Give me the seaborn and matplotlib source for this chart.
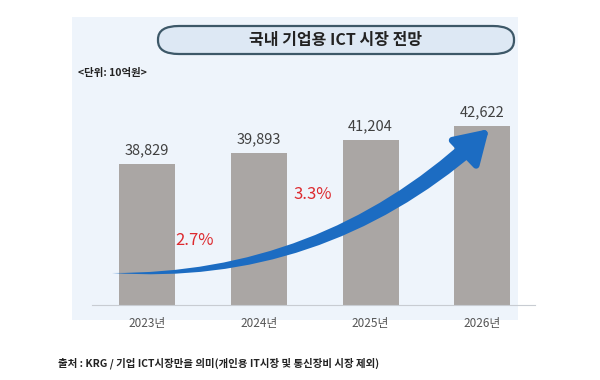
import matplotlib
matplotlib.use("Agg")
import matplotlib.pyplot as plt
import seaborn as sns
import pandas as pd
from matplotlib.patches import FancyBboxPatch, Rectangle

# --- data ---
years = ['2023년', '2024년', '2025년', '2026년']
values = [38829, 39893, 41204, 42622]
growth_labels = ['2.7%', '3.3%']

df = pd.DataFrame({'year': years, 'value': values})

sns.set_theme(style='white')
plt.rcParams['font.family'] = ['Noto Sans CJK KR', 'DejaVu Sans']

fig = plt.figure(figsize=(6, 3.8), dpi=100)
fig.patch.set_facecolor('white')

# light blue panel behind the chart
fig.patches.append(Rectangle((72 / 600, 1 - 320 / 380), 446 / 600, 303 / 380,
                             transform=fig.transFigure, facecolor='#eef4fb',
                             edgecolor='none', zorder=-2))

# rounded title box
fig.patches.append(FancyBboxPatch((158 / 600, 1 - 54 / 380), 356 / 600, 28 / 380,
                                  boxstyle='round,pad=0,rounding_size=0.035',
                                  transform=fig.transFigure, facecolor='#dde8f4',
                                  edgecolor='#3d5868', linewidth=1.6, zorder=-1))
fig.text(336 / 600, 1 - 40 / 380, '국내 기업용 ICT 시장 전망', ha='center', va='center',
         fontsize=11.5, fontweight='bold', color='#222222')

fig.text(78 / 600, 1 - 73 / 380, '<단위: 10억원>', ha='left', va='center',
         fontsize=7.5, fontweight='bold', color='#222222')

fig.text(58 / 600, 1 - 363 / 380,
         '출처 : KRG / 기업 ICT시장만을 의미(개인용 IT시장 및 통신장비 시장 제외)',
         ha='left', va='center', fontsize=7.5, fontweight='bold', color='#222222')

ax = fig.add_axes([92 / 600, 1 - 305 / 380, 443 / 600, 205 / 380])
ax.patch.set_alpha(0)

sns.barplot(data=df, x='year', y='value', color='#aaa6a4', saturation=1,
            width=0.5, linewidth=0, ax=ax, zorder=2)
ax.set_xlim(-0.49, 3.47)
ax.set_ylim(24757, 45200)

for c in ax.containers:
    ax.bar_label(c, labels=[f'{v:,}' for v in values], padding=5,
                 fontsize=10.5, color='#404040')

for s in ['top', 'right', 'left']:
    ax.spines[s].set_visible(False)
ax.spines['bottom'].set_color('#c8ccd2')
ax.spines['bottom'].set_linewidth(0.8)
ax.set_yticks([])
ax.set_xlabel('')
ax.set_ylabel('')
ax.tick_params(axis='x', length=0, pad=9, labelsize=8.5, labelcolor='#555555')

# growth arrow (figure pixels, origin bottom-left): tapered body + head
blue = '#1c6cc2'
tail = (112, 380 - 273)
body_end = (474, 380 - 143)
tip = (489, 380 - 129)
ax.annotate('', xy=tail, xytext=body_end, xycoords='figure pixels',
            textcoords='figure pixels',
            arrowprops=dict(arrowstyle='wedge,tail_width=0.6,shrink_factor=0.62',
                            connectionstyle='arc3,rad=-0.2', color=blue,
                            mutation_scale=20, shrinkA=0, shrinkB=0, lw=0),
            zorder=3)
ax.annotate('', xy=tip, xytext=(tip[0] - 0.72 * 30, tip[1] - 0.69 * 30),
            xycoords='figure pixels', textcoords='figure pixels',
            arrowprops=dict(arrowstyle='-|>,head_length=1.0,head_width=0.62',
                            color=blue, mutation_scale=20, shrinkA=0, shrinkB=0,
                            lw=5),
            zorder=3)

ax.text(0.43, 24757 + (305 - 241) / 0.01002, growth_labels[0], ha='center', va='center',
        fontsize=12, color='#dd2a2f', zorder=4)
ax.text(1.48, 24757 + (305 - 195) / 0.01002, growth_labels[1], ha='center', va='center',
        fontsize=12, color='#dd2a2f', zorder=4)

fig.savefig('out.png', dpi=100)
